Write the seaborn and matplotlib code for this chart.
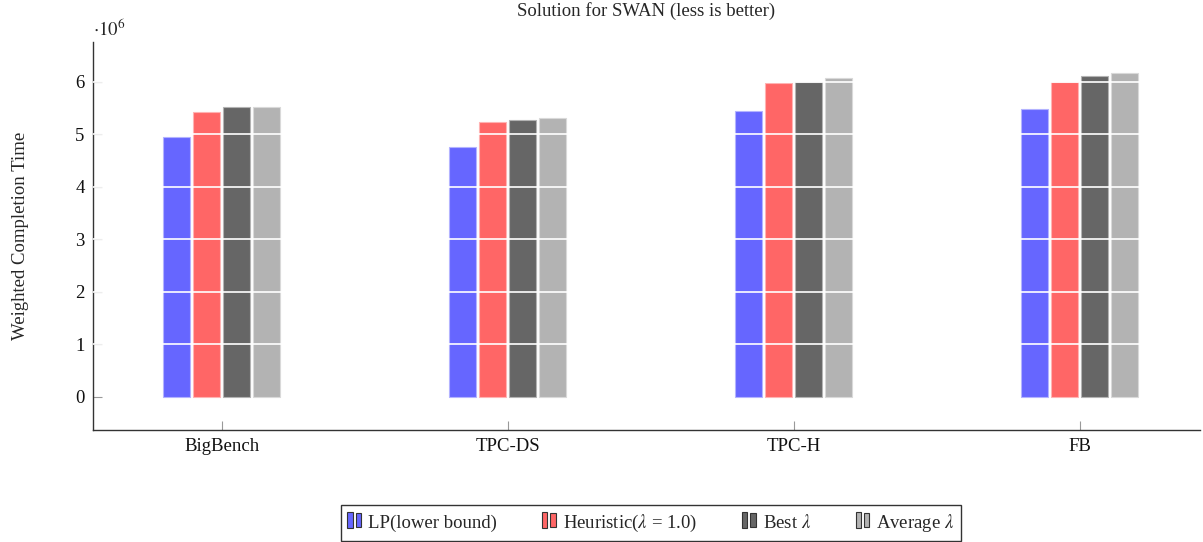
import matplotlib
matplotlib.use("Agg")
import matplotlib.pyplot as plt
import seaborn as sns
import pandas as pd
from matplotlib.patches import Rectangle
from matplotlib.legend_handler import HandlerBase

categories = ["BigBench", "TPC-DS", "TPC-H", "FB"]
series = ["LP(lower bound)", r"Heuristic($\lambda$ = 1.0)", r"Best $\lambda$", r"Average $\lambda$"]
lp = [4.95, 4.76, 5.45, 5.48]
heuristic = [5.43, 5.23, 5.98, 5.99]
best = [5.52, 5.27, 5.99, 6.11]
average = [5.52, 5.32, 6.08, 6.16]
colors = ["#6666FF", "#FF6666", "#666666", "#B3B3B3"]
edge_colors = ["#B3B3FF", "#FFB3B3", "#B3B3B3", "#D9D9D9"]

rows = []
for s, vals in zip(series, [lp, heuristic, best, average]):
    for c, v in zip(categories, vals):
        rows.append({"cat": c, "series": s, "value": v})
df = pd.DataFrame(rows)

sns.set_style("white")
plt.rcParams["font.family"] = ["Liberation Serif", "DejaVu Serif"]
plt.rcParams["mathtext.fontset"] = "stix"

FS = 13.5

fig = plt.figure(figsize=(12.03, 5.42), dpi=100)
ax = fig.add_axes([0.0773, 0.2066, 0.920, 0.716])

sns.barplot(data=df, x="cat", y="value", hue="series", order=categories,
            hue_order=series, palette=colors, width=0.419, gap=0.1,
            ax=ax, legend=False, zorder=2, saturation=1)

# edge colours per series
for cont, ec in zip(ax.containers, edge_colors):
    for p in cont.patches:
        p.set_edgecolor(ec)
        p.set_linewidth(0.8)

ax.set_xlim(-0.45, 3.42)
ax.set_ylim(-0.63, 6.76)
ax.set_yticks([0, 1, 2, 3, 4, 5, 6])
for y in [1, 2, 3, 4, 5, 6]:
    ax.axhline(y, color="white", lw=1.2, zorder=3)

for s in ["top", "right"]:
    ax.spines[s].set_visible(False)
for s in ["left", "bottom"]:
    ax.spines[s].set_color("#333333")
    ax.spines[s].set_linewidth(1.0)

ax.tick_params(axis="both", direction="in", length=6.5, width=0.8, color="#999999",
               labelsize=FS, left=True, bottom=True, pad=6, labelcolor="#111111")
ax.set_xlabel("")
ax.set_ylabel("Weighted Completion Time", fontsize=FS, labelpad=33)
ax.set_title("Solution for SWAN (less is better)", fontsize=FS, pad=19, x=0.5)
ax.text(0.0, 1.005, r"$\cdot 10^6$", transform=ax.transAxes, fontsize=FS,
        ha="left", va="bottom")


class DoubleBarHandler(HandlerBase):
    def __init__(self, fc, ec):
        super().__init__()
        self.fc = fc
        self.ec = ec

    def create_artists(self, legend, orig_handle, xdescent, ydescent, width,
                       height, fontsize, trans):
        h = height * 1.2
        y0 = -ydescent - (h - height) / 2 + 1
        w = width * 0.32
        r1 = Rectangle((-xdescent, y0), w, h, facecolor=self.fc,
                       edgecolor="#333333", lw=0.8, transform=trans)
        r2 = Rectangle((-xdescent + w + width * 0.18, y0 + 1), w, h * 0.85,
                       facecolor=self.fc, edgecolor="#333333", lw=0.8,
                       transform=trans)
        return [r1, r2]


handles = [Rectangle((0, 0), 1, 1) for _ in series]
handler_map = {h: DoubleBarHandler(c, e) for h, c, e in zip(handles, colors, edge_colors)}
leg = fig.legend(handles, series, handler_map=handler_map, loc="center",
                 bbox_to_anchor=(651 / 1203, 1 - 523 / 542), ncol=4,
                 frameon=True, fancybox=False, fontsize=FS,
                 handlelength=0.9, handletextpad=0.2, columnspacing=2.4,
                 borderpad=0.35)
leg.get_frame().set_edgecolor("black")
leg.get_frame().set_linewidth(1.0)

fig.savefig("out.png", dpi=100)
